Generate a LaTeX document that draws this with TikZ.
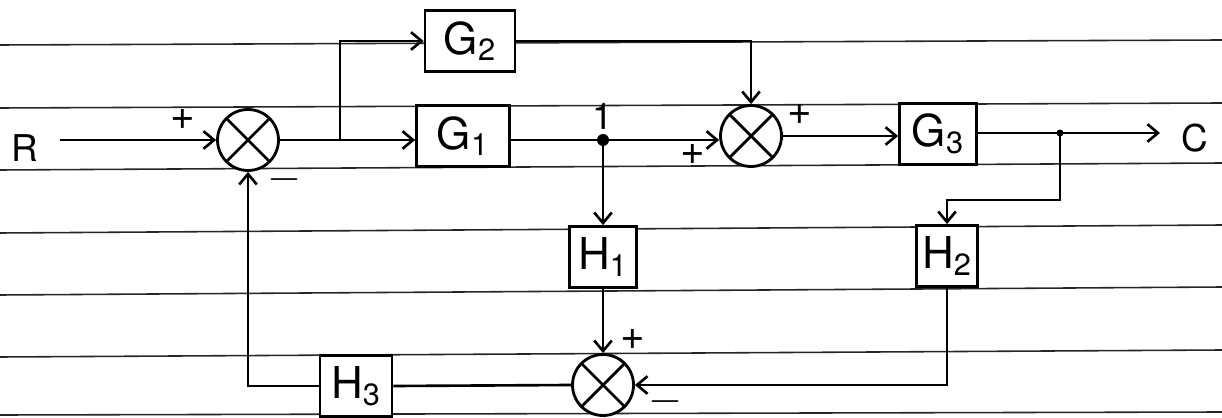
\documentclass[tikz,border=0pt]{standalone}
\usepackage{fontspec}
\setmainfont{TeX Gyre Heros}
\usetikzlibrary{arrows.meta}

\begin{document}
\begin{tikzpicture}[x=0.02cm, y=-0.02cm, >={Straight Barb[length=6pt,width=10pt]},
    blk/.style={draw, line width=1.6pt, fill=white, minimum height=1.22cm, inner sep=0pt,
        font=\fontsize{25}{30}\selectfont},
    sumj/.style={circle, draw, line width=1.6pt, fill=white, minimum size=1.22cm, inner sep=0pt,
        path picture={\draw[line width=1.6pt]
            (path picture bounding box.south west) -- (path picture bounding box.north east)
            (path picture bounding box.north west) -- (path picture bounding box.south east);}},
    sig/.style={line width=1.5pt},
    sgn/.style={font=\fontsize{24}{28}\selectfont},
    io/.style={font=\fontsize{21}{25}\selectfont}]
        \useasboundingbox (0,0) rectangle (1222,418);
        % ==== RULED PAPER ====
        \foreach \yl/\yr in {45/40,108/103,170/163,233/225,295/287,357/350,415/412}
            \draw[line width=0.9pt, black!85] (0,\yl) -- (1222,\yr);

        % ==== BLOCKS ====
        \node[io] (rlab) at (25,148) {R};
        \node[sumj] (s1) at (248,140) {};
        \node[blk, minimum width=1.8cm] (g2) at (470,41) {G\textsubscript{2}};
        \node[blk, minimum width=1.86cm] (g1) at (463,136) {G\textsubscript{1}};
        \node[sumj] (s2) at (751,136) {};
        \node[blk, minimum width=1.54cm] (g3) at (938,134) {G\textsubscript{3}};
        \node[blk, minimum width=1.34cm] (h1) at (603,257) {H\textsubscript{1}};
        \node[blk, minimum width=1.22cm] (h2) at (947,256) {H\textsubscript{2}};
        \node[sumj] (s3) at (603,385) {};
        \node[blk, minimum width=1.44cm] (h3) at (356,386) {H\textsubscript{3}};
        \node[io] (clab) at (1195,138) {C};

        \coordinate (b1) at (340,140);
        \coordinate (n1) at (603,140);
        \coordinate (b2) at (1060,133);
        \coordinate (b3) at (1060,200);
        \coordinate (cend) at (1160,133);

        % ==== FORWARD PATH ====
        \draw[sig, ->] (rlab.east |- s1) ++(15,0) -- (s1.west);
        \draw[sig, ->] (s1.east) -- (s1.east -| g1.west);
        \draw[sig, ->] (b1) |- (g2.west);
        \draw[sig] (g1.east |- n1) -- (n1);
        \draw[sig, ->] (n1) -- (n1 -| s2.west);
        \draw[sig, ->] (g2.east) -| (s2.north);
        \draw[sig, ->] (s2.east) -- (s2.east -| g3.west);
        \draw[sig] (g3.east |- b2) -- (b2);
        \draw[sig, ->] (b2) -- (cend);
        \fill (n1) circle (6);
        \fill (b2) circle (3.5);

        % ==== FEEDBACK PATHS ====
        \draw[sig, ->] (b2) -- (b3) -| (h2.north);
        \draw[sig, ->] (n1) -- (h1.north);
        \draw[sig, ->] (h1.south) -- (s3.north);
        \draw[sig, ->] (h2.south) |- (s3.east);
        \draw[sig] (s3.west) -- (h3.east);
        \draw[sig, ->] (h3.west) -| (s1.south);

        % ==== SIGNS ====
        \node[sgn] at (183,120) {+};
        \node[sgn] at (284,180) {$-$};
        \node[io] at (603,116) {1};
        \node[sgn] at (693,155) {+};
        \node[sgn] at (800,115) {+};
        \node[sgn] at (633,340) {+};
        \node[sgn] at (665,402) {$-$};
\end{tikzpicture}
\end{document}
